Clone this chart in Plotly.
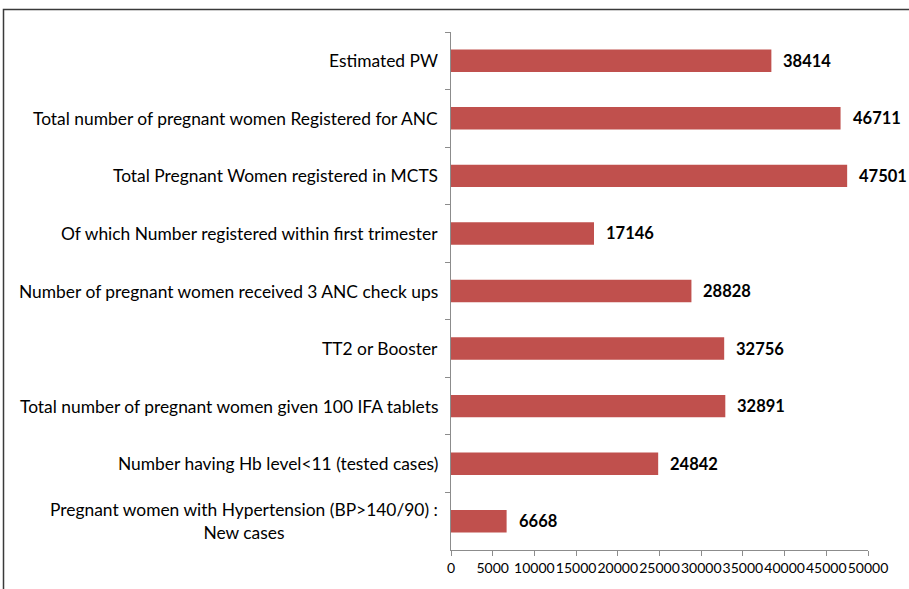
import plotly.graph_objects as go

categories = [
    "Estimated PW",
    "Total number of pregnant women Registered for ANC",
    "Total Pregnant Women registered in MCTS",
    "Of which Number registered within first trimester",
    "Number of pregnant women received 3 ANC check ups",
    "TT2 or Booster",
    "Total number of pregnant women given 100 IFA tablets",
    "Number having Hb level<11 (tested cases)",
    "Pregnant women with Hypertension (BP>140/90) :<br>New cases",
]
values = [38414, 46711, 47501, 17146, 28828, 32756, 32891, 24842, 6668]
x_ticks = [0, 5000, 10000, 15000, 20000, 25000, 30000, 35000, 40000, 45000, 50000]

FONT = "Lato"
W, H = 909, 589
L, R, T, B = 451, 41, 32, 39
pw = W - L - R
ph = H - T - B

fig = go.Figure()
fig.add_trace(go.Bar(
    y=categories, x=values, orientation="h",
    marker=dict(color="#C0504D", line=dict(width=0)),
    width=0.39,
    hoverinfo="x+y",
))

annotations = []
for c, v in zip(categories, values):
    annotations.append(dict(
        x=v, y=c, xref="x", yref="y", text=f"<b>{v}</b>", showarrow=False,
        xanchor="left", xshift=10, font=dict(family=FONT, size=16.5, color="black"),
    ))
    annotations.append(dict(
        x=0, y=c, xref="paper", yref="y", text=c, showarrow=False,
        xanchor="right", xshift=-11, align="center",
        font=dict(family=FONT, size=17.4, color="black"),
    ))

def px_x(p):
    return (p - L) / pw

def px_y(p):
    return (H - B - p) / ph

fig.update_layout(
    width=W, height=H,
    margin=dict(l=L, r=R, t=T, b=B),
    paper_bgcolor="white", plot_bgcolor="white",
    showlegend=False,
    bargap=0.61,
    annotations=annotations,
    shapes=[dict(
        type="rect", xref="paper", yref="paper",
        x0=px_x(3.5), x1=px_x(930), y0=px_y(620), y1=px_y(9.5),
        line=dict(color="#3a3a3a", width=1.5), fillcolor="rgba(0,0,0,0)", layer="below",
    )],
    xaxis=dict(
        range=[0, 50000], tickvals=x_ticks, ticktext=[str(t) for t in x_ticks],
        showgrid=False, zeroline=False, showline=True, linecolor="#8c8c8c", linewidth=1,
        ticks="outside", ticklen=5, tickcolor="#8c8c8c", tickangle=0,
        tickfont=dict(family=FONT, size=14, color="black"),
        fixedrange=True,
    ),
    yaxis=dict(
        autorange="reversed", showgrid=False, zeroline=False,
        showline=True, linecolor="#8c8c8c", linewidth=1,
        ticks="outside", ticklen=5, tickcolor="#8c8c8c", tickson="boundaries",
        showticklabels=False, fixedrange=True,
    ),
)

fig.write_html("out.html", config={"displayModeBar": False})
with open("out.html", "r", encoding="utf-8") as f:
    html = f.read()
html = html.replace("<head>", "<head><style>html,body{margin:0;padding:0;overflow:hidden}</style>", 1)
with open("out.html", "w", encoding="utf-8") as f:
    f.write(html)
